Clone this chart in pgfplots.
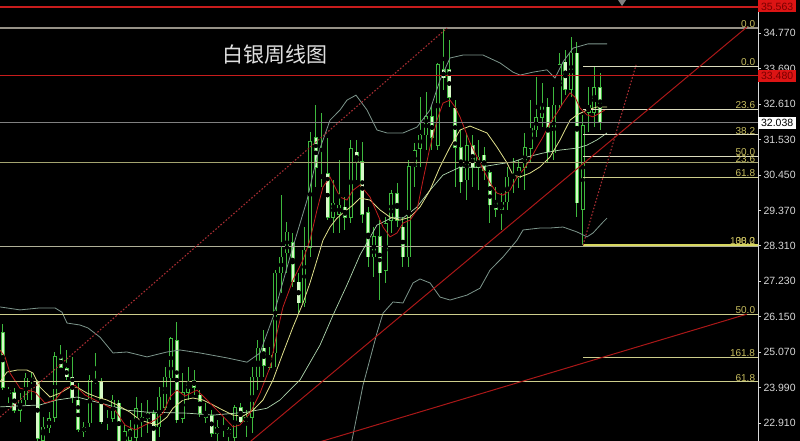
\documentclass[border=0pt]{standalone}
\usepackage{pgfplots}
\pgfplotsset{compat=1.18}
\usepackage{pgfplotstable}
\usepackage{fontspec}
\setmainfont{Liberation Sans}
\newfontfamily\cjk{Noto Sans CJK SC}
\definecolor{cg}{RGB}{62,185,62}
\definecolor{cpale}{RGB}{215,250,200}
\definecolor{redln}{RGB}{200,28,28}
\definecolor{dotred}{RGB}{165,45,50}
\definecolor{grayln}{RGB}{150,145,135}
\definecolor{khaki}{RGB}{205,205,140}
\definecolor{fibln}{RGB}{220,220,190}
\definecolor{fibyel}{RGB}{215,215,95}
\definecolor{fibtxt}{RGB}{200,190,95}
\definecolor{maR}{RGB}{195,30,30}
\definecolor{maY}{RGB}{225,225,140}
\definecolor{maW}{RGB}{175,215,175}
\definecolor{bb}{RGB}{125,150,140}
\definecolor{ticktxt}{RGB}{215,215,215}
\definecolor{boxred}{RGB}{220,20,20}
\definecolor{boxtxt}{RGB}{120,0,0}

\pgfplotstableread{
i o h l c
0 25.65 25.92 23.91 24.00
1 23.82 24.00 23.52 23.91
2 23.85 23.97 23.21 23.30
3 23.30 23.82 22.94 23.61
4 23.61 24.43 23.46 24.28
5 24.28 24.46 23.61 24.16
6 24.16 24.22 22.36 22.45
7 22.39 23.09 22.24 22.79
8 22.76 23.24 22.60 23.06
9 23.09 25.07 22.94 24.92
10 24.92 25.28 24.58 24.61
11 24.58 25.13 24.22 24.31
12 24.31 24.92 23.52 23.67
13 23.61 24.13 22.64 22.70
14 22.64 22.94 22.48 22.79
15 22.91 24.37 22.79 24.22
16 24.16 25.04 24.09 24.22
17 24.16 24.28 22.88 22.94
18 22.91 23.30 22.70 23.00
19 23.06 23.76 22.94 23.61
20 23.52 23.61 22.15 22.27
21 22.24 22.85 22.09 22.64
22 22.39 23.00 22.24 22.70
23 22.48 23.70 22.30 23.36
24 22.94 23.52 22.48 23.09
25 23.06 23.61 22.60 23.21
26 23.21 23.30 22.18 22.30
27 22.79 24.00 22.48 23.70
28 23.39 24.61 23.30 24.31
29 24.28 25.52 23.61 25.49
30 25.43 25.98 22.91 23.00
31 23.06 24.43 22.91 23.85
32 23.85 24.61 23.61 24.16
33 24.22 24.52 23.76 24.00
34 23.76 23.91 23.09 23.21
35 23.09 23.52 22.91 23.21
36 23.15 23.30 22.48 22.60
37 22.60 23.00 22.30 22.79
38 22.79 23.09 22.48 22.70
39 22.60 22.79 22.30 22.70
40 22.48 23.46 22.33 23.39
41 23.39 23.52 22.91 22.94
42 22.94 23.30 22.48 23.09
43 23.09 24.61 22.60 24.31
44 24.31 25.43 23.91 25.19
45 25.19 25.74 24.31 24.67
46 24.61 25.22 24.52 24.98
47 25.04 27.56 24.61 27.47
48 27.47 29.84 26.86 27.96
49 28.08 29.02 27.47 28.72
50 28.41 28.69 27.05 27.20
51 27.20 27.47 26.25 26.56
52 26.56 28.87 26.44 28.17
53 28.26 31.76 27.96 31.46
54 31.58 32.58 30.09 30.67
55 30.42 32.34 30.09 30.39
56 30.51 31.58 29.08 29.17
57 29.17 30.30 28.69 29.60
58 29.24 30.91 28.69 29.54
59 29.48 29.78 28.78 29.17
60 29.17 31.52 28.99 31.27
61 31.15 31.52 30.30 30.82
62 30.85 31.46 28.99 29.24
63 29.30 29.48 27.65 27.96
64 27.96 28.87 27.35 28.57
65 28.57 29.08 26.65 27.47
66 27.56 29.17 27.17 28.99
67 29.08 30.00 28.69 29.90
68 29.90 30.21 28.87 29.08
69 28.87 29.17 27.65 27.96
70 27.96 30.91 27.65 30.70
71 30.70 31.43 30.09 31.21
72 31.27 32.82 30.70 31.67
73 31.67 32.98 31.21 32.22
74 32.22 32.58 31.21 31.58
75 31.36 33.86 31.21 33.80
76 33.65 34.92 33.04 33.40
77 33.65 34.56 32.52 32.82
78 32.49 32.73 30.09 31.30
79 31.30 31.82 29.90 30.24
80 30.30 31.73 29.69 31.36
81 31.36 31.67 30.09 30.67
82 30.67 31.52 30.00 31.00
83 31.06 31.30 30.30 30.60
84 30.54 30.60 28.99 29.54
85 29.63 30.09 29.17 29.39
86 29.39 29.90 28.78 29.63
87 29.63 30.70 29.39 30.39
88 30.45 30.97 29.90 30.36
89 30.36 30.91 30.06 30.67
90 30.67 31.73 30.00 31.30
91 31.27 32.73 30.82 31.88
92 31.82 33.43 31.61 32.19
93 32.19 33.25 31.91 32.58
94 32.52 32.79 30.82 31.15
95 31.12 33.12 30.91 32.58
96 32.58 34.16 32.43 33.80
97 33.89 34.25 32.88 33.04
98 33.04 34.65 32.82 34.16
99 34.16 34.50 29.17 29.60
100 29.39 32.28 28.32 31.97
101 32.34 33.12 31.76 32.58
102 32.34 33.74 31.91 33.12
103 33.10 33.55 31.82 32.04
}\candles

\begin{document}
\begin{tikzpicture}[x=1pt,y=1pt]
\fill[black] (0,0) rectangle (800,441);
\useasboundingbox (0,0) rectangle (800,441);
\begin{axis}[
  at={(0,0)}, anchor=south west,
  width=758pt, height=441pt, scale only axis,
  xmin=-0.466, xmax=130.22, ymin=22.363, ymax=35.774,
  axis x line=none, axis y line=right,
  y axis line style={-, draw=ticktxt, line width=0.8pt},
  ytick={34.77,33.69,32.61,31.53,30.45,29.37,28.31,27.23,26.15,25.07,23.99,22.91},
  yticklabels={34.770,33.690,32.610,31.530,30.450,29.370,28.310,27.230,26.150,25.070,23.990,22.910},
  yticklabel style={font=\fontsize{10.5}{12}\selectfont, text=ticktxt, xshift=-1pt},
  tick align=outside, major tick length=3pt,
  ytick style={draw=ticktxt, line width=0.6pt},
]
% --- candles: wicks
\addplot[only marks, mark=none, forget plot,
  error bars/.cd, y dir=both, y explicit, error mark=none,
  error bar style={line width=1pt, draw=cg}]
  table[x=i, y expr={(\thisrow{h}+\thisrow{l})/2}, y error expr={(\thisrow{h}-\thisrow{l})/2}] {\candles};
% bull bodies (hollow)
\addplot[only marks, mark=none, forget plot,
  restrict expr to domain={\thisrow{c}-\thisrow{o}}{0:100},
  error bars/.cd, y dir=both, y explicit, error mark=none,
  error bar style={line width=4pt, draw=cg}]
  table[x=i, y expr={(\thisrow{o}+\thisrow{c})/2}, y error expr={abs(\thisrow{c}-\thisrow{o})/2+0.013}] {\candles};
\addplot[only marks, mark=none, forget plot,
  restrict expr to domain={\thisrow{c}-\thisrow{o}}{0:100},
  error bars/.cd, y dir=both, y explicit, error mark=none,
  error bar style={line width=2.2pt, draw=black}]
  table[x=i, y expr={(\thisrow{o}+\thisrow{c})/2}, y error expr={max(abs(\thisrow{c}-\thisrow{o})/2-0.013,0)}] {\candles};
% bear bodies (filled)
\addplot[only marks, mark=none, forget plot,
  restrict expr to domain={\thisrow{c}-\thisrow{o}}{-100:-0.0001},
  error bars/.cd, y dir=both, y explicit, error mark=none,
  error bar style={line width=4pt, draw=cg}]
  table[x=i, y expr={(\thisrow{o}+\thisrow{c})/2}, y error expr={abs(\thisrow{c}-\thisrow{o})/2+0.013}] {\candles};
\addplot[only marks, mark=none, forget plot,
  restrict expr to domain={\thisrow{c}-\thisrow{o}}{-100:-0.0001},
  error bars/.cd, y dir=both, y explicit, error mark=none,
  error bar style={line width=2.4pt, draw=cpale}]
  table[x=i, y expr={(\thisrow{o}+\thisrow{c})/2}, y error expr={max(abs(\thisrow{c}-\thisrow{o})/2-0.013,0)}] {\candles};

% --- Bollinger bands
\addplot[bb, line width=0.8pt] coordinates {(-0.47,26.44)(2.98,26.35)(6.43,26.41)(9.02,26.41)(10.22,26.28)(11.09,25.95)(13.33,25.89)(14.71,25.80)(16.78,25.52)(19.02,25.04)(21.43,25.07)(24.88,24.92)(28.33,25.07)(30.57,25.13)(34.02,25.04)(38.67,24.89)(42.12,24.76)(44.36,25.04)(46.6,26.13)(49.53,27.96)(52.47,29.69)(54.19,31.00)(56.43,32.12)(58.16,32.43)(59.36,32.73)(60.91,32.88)(62.81,32.43)(64.53,31.82)(66.26,31.73)(69.02,31.73)(71.43,31.91)(73.67,32.43)(75.4,33.34)(77.12,34.01)(79.36,34.10)(82.81,34.10)(85.74,33.86)(87.98,33.58)(89.19,33.49)(91.43,33.58)(93.84,33.65)(95.22,33.40)(96.6,33.89)(98.33,34.31)(100.91,34.44)(104.19,34.44)};
\addplot[bb, line width=0.8pt] coordinates {(59.53,21.78)(62.12,24.06)(64.53,25.65)(65.57,26.25)(67.29,26.59)(69.02,26.56)(70.74,27.17)(71.95,27.29)(73.67,27.17)(75.40,26.74)(77.12,26.65)(80.05,26.80)(82.29,27.01)(84.02,27.56)(86.26,27.96)(88.67,28.47)(89.71,28.78)(92.64,28.84)(94.36,28.84)(96.6,28.87)(99.02,28.72)(100.74,28.57)(101.78,28.69)(103.5,29.02)(104.19,29.14)};
% --- slow MA
\addplot[maW, line width=0.7pt] coordinates {(-0.47,23.40)(6.43,23.46)(9.36,23.61)(12.81,23.70)(16.78,23.52)(21.43,23.30)(24.88,23.24)(31.78,23.21)(36.26,23.15)(42.12,23.24)(45.57,23.36)(47.81,23.61)(51.26,24.22)(54.71,25.28)(56.95,26.19)(59.36,27.11)(61.60,28.02)(64.53,28.93)(67.29,29.17)(69.02,29.14)(71.43,29.48)(73.67,29.99)(75.91,30.45)(78.84,30.69)(82.29,30.69)(85.74,30.79)(87.98,30.85)(90.40,31.00)(93.16,31.12)(96.09,31.21)(99.02,31.27)(100.74,31.36)(102.47,31.52)(104.19,31.73)};
% --- yellow MA
\addplot[maY, line width=0.8pt] coordinates {(-0.47,24.16)(0.74,24.46)(2.47,24.52)(4.19,24.52)(5.22,24.43)(6.43,24.00)(8.16,23.70)(9.88,23.82)(11.60,24.00)(12.81,24.00)(14.53,23.82)(16.26,23.70)(17.98,23.61)(19.71,23.46)(21.95,23.24)(23.67,23.00)(25.40,22.91)(26.60,22.85)(28.33,23.09)(29.36,23.36)(31.09,23.61)(32.81,23.67)(34.53,23.61)(36.26,23.46)(37.98,23.30)(39.71,23.15)(41.43,23.12)(43.16,23.30)(44.88,23.61)(46.60,24.22)(48.33,25.04)(50.05,25.83)(51.78,26.56)(52.98,27.17)(54.19,27.87)(55.22,28.47)(56.43,28.87)(57.64,29.14)(58.67,29.30)(60.40,29.54)(61.60,29.75)(63.33,29.69)(65.05,29.39)(66.78,29.17)(68.50,29.08)(70.22,29.17)(71.95,29.48)(73.67,29.99)(75.40,30.70)(77.12,31.30)(78.84,31.82)(80.57,31.94)(83.50,31.73)(85.22,31.30)(86.95,30.82)(87.98,30.45)(89.19,30.39)(90.91,30.51)(92.64,30.70)(94.36,31.00)(96.09,31.52)(97.81,32.12)(99.02,32.28)(100.74,32.43)(102.47,32.52)(104.19,32.52)};
% --- red MA
\addplot[maR, line width=0.8pt] coordinates {(-0.47,25.13)(0.40,24.92)(1.26,24.43)(2.98,23.97)(5.57,23.85)(7.29,23.52)(9.02,23.61)(10.74,23.97)(12.47,24.06)(14.19,23.76)(15.91,23.61)(17.64,23.46)(19.36,23.30)(21.09,22.85)(22.81,22.70)(24.53,22.85)(26.26,23.00)(27.64,23.21)(28.84,23.70)(30.05,23.91)(31.43,23.73)(33.50,23.91)(35.22,23.61)(37.47,23.21)(39.71,22.79)(40.91,22.85)(42.64,23.21)(44.36,23.82)(46.09,24.61)(47.29,25.65)(48.33,26.44)(50.05,27.26)(51.78,27.87)(52.98,28.47)(54.19,29.39)(55.22,30.09)(56.43,30.39)(58.16,29.78)(59.36,29.69)(60.40,29.99)(61.60,30.15)(63.33,29.78)(64.53,29.30)(65.57,28.87)(66.78,28.57)(67.98,28.69)(69.02,28.99)(70.22,29.08)(71.43,29.39)(72.47,30.30)(73.67,31.30)(74.88,32.12)(75.91,32.64)(77.12,32.73)(77.98,32.52)(78.84,32.22)(80.57,31.43)(82.29,30.82)(84.02,30.21)(85.22,29.90)(86.26,29.84)(87.47,29.99)(88.67,30.39)(89.71,30.60)(90.91,30.91)(92.12,31.30)(93.16,31.61)(94.36,32.03)(95.57,32.34)(96.60,32.64)(97.81,32.95)(98.67,32.82)(99.53,32.49)(100.74,32.28)(101.78,32.22)(102.98,32.34)(103.84,32.43)};

% --- horizontal objects
\addplot[redln, line width=1.2pt] coordinates {(-1,35.563)(131,35.563)};
\addplot[grayln, line width=1.2pt] coordinates {(-1,34.92)(131,34.92)};
\addplot[redln, line width=1.2pt] coordinates {(-1,33.48)(131,33.48)};
\addplot[gray, line width=0.8pt] coordinates {(-1,32.038)(131,32.038)};
\addplot[khaki!80!black, line width=1.2pt] coordinates {(-1,30.82)(131,30.82)};
\addplot[fibln!80!black, line width=0.8pt] coordinates {(-1,28.28)(131,28.28)};
\addplot[khaki, line width=1pt] coordinates {(-1,26.21)(131,26.21)};
\addplot[khaki, line width=1pt] coordinates {(-1,24.16)(131,24.16)};
% short fibonacci
\addplot[fibln, line width=0.9pt] coordinates {(100.05,33.74)(131,33.74)};
\addplot[fibln, line width=0.9pt] coordinates {(100.05,32.46)(131,32.46)};
\addplot[fibln, line width=0.9pt] coordinates {(100.05,31.67)(131,31.67)};
\addplot[fibln, line width=0.9pt] coordinates {(100.05,31.03)(131,31.03)};
\addplot[khaki, line width=0.9pt] coordinates {(100.05,30.39)(131,30.39)};
\addplot[fibyel, line width=2pt] coordinates {(100.05,28.31)(131,28.31)};
\addplot[khaki, line width=0.9pt] coordinates {(100.05,24.90)(131,24.90)};
% trend lines
\addplot[redln!85!black, line width=1pt] coordinates {(40,21.95)(128.3,34.95)};
\addplot[redln!85!black, line width=1pt] coordinates {(50,22.09)(128.3,26.22)};
\addplot[dotred, line width=1.1pt, dash pattern=on 1.6pt off 1.8pt] coordinates {(-0.466,23.09)(76.6,34.92)};
\addplot[dotred, line width=1.1pt, dash pattern=on 1.6pt off 1.8pt] coordinates {(100.05,28.32)(109.2,33.80)};

% fib labels
\begin{scope}[every node/.style={anchor=south east, inner sep=0.6pt, text=fibtxt, font=\fontsize{10}{10}\selectfont}]
\node at (axis cs:129.85,34.92) {0.0};
\node at (axis cs:129.85,33.74) {0.0};
\node at (axis cs:129.85,32.46) {23.6};
\node at (axis cs:129.85,31.67) {38.2};
\node at (axis cs:129.85,31.03) {50.0};
\node at (axis cs:129.85,30.82) {23.6};
\node at (axis cs:129.85,30.39) {61.8};
\node at (axis cs:129.85,28.31) {100.0};
\node at (axis cs:129.85,28.31) {38.2};
\node at (axis cs:129.85,26.21) {50.0};
\node at (axis cs:129.85,24.90) {161.8};
\node at (axis cs:129.85,24.16) {61.8};
\end{scope}
\end{axis}
% price boxes on the right scale
\node[fill=boxred, text=boxtxt, anchor=west, inner sep=1.2pt, minimum width=38pt, minimum height=12pt, font=\fontsize{10.5}{12}\selectfont] at (758,441-6.4) {35.563};
\node[fill=boxred, text=boxtxt, anchor=west, inner sep=1.2pt, minimum width=38pt, minimum height=12pt, font=\fontsize{10.5}{12}\selectfont] at (758,441-75.7) {33.480};
\node[fill=white, text=black, anchor=west, inner sep=1.2pt, minimum width=38pt, minimum height=12pt, font=\fontsize{10.5}{12}\selectfont] at (758,441-122.8) {32.038};
% title
\node[text=white!88!black, font=\cjk\fontsize{21}{24}\selectfont] at (275,441-55) {白银周线图};
% small top marker
\fill[gray] (618,441) -- (626,441) -- (622,435) -- cycle;
\end{tikzpicture}
\end{document}
